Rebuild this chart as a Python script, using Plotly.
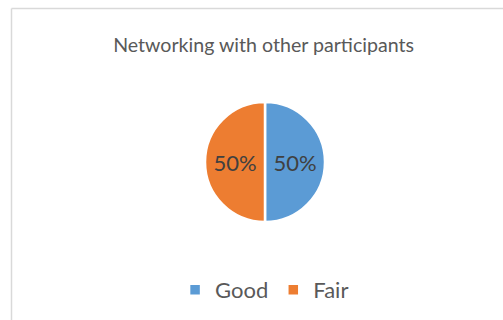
import plotly.graph_objects as go

# Survey responses for "Networking with other participants"
categories = ["Good", "Fair"]
shares = [50, 50]
slice_colors = ["#5B9BD5", "#ED7D31"]

W, H = 503, 320
FONT = "Lato"

fig = go.Figure(
    go.Pie(
        labels=categories,
        values=shares,
        sort=False,
        direction="clockwise",
        rotation=0,
        marker=dict(colors=slice_colors, line=dict(color="white", width=2.5)),
        textinfo="percent",
        texttemplate="%{percent:.0%}",
        textposition="inside",
        insidetextfont=dict(family=FONT, size=22, color="#404040"),
        insidetextorientation="horizontal",
        hoverinfo="label+percent",
        domain=dict(x=[205 / W, 325 / W], y=[1 - 222 / H, 1 - 102 / H]),
    )
)

# Chart-area frame (left and top edges visible)
fig.add_shape(type="line", xref="paper", yref="paper",
              x0=11.5 / W, x1=11.5 / W, y0=0, y1=1 - 8.5 / H,
              line=dict(color="#D9D9D9", width=1.5))
fig.add_shape(type="line", xref="paper", yref="paper",
              x0=11.5 / W, x1=1, y0=1 - 8.5 / H, y1=1 - 8.5 / H,
              line=dict(color="#D9D9D9", width=1.5))

fig.update_layout(
    width=W,
    height=H,
    margin=dict(l=0, r=0, t=0, b=0),
    paper_bgcolor="white",
    plot_bgcolor="white",
    title=dict(
        text="Networking with other participants",
        x=0.524, xanchor="center",
        y=1 - 45 / H, yanchor="middle",
        font=dict(family=FONT, size=19.6, color="#595959"),
    ),
    showlegend=True,
    legend=dict(
        orientation="h",
        x=0.526, xanchor="center",
        y=1 - 290 / H, yanchor="middle",
        font=dict(family=FONT, size=22, color="#595959"),
        itemwidth=30,
    ),
)

fig.write_html("out.html")
